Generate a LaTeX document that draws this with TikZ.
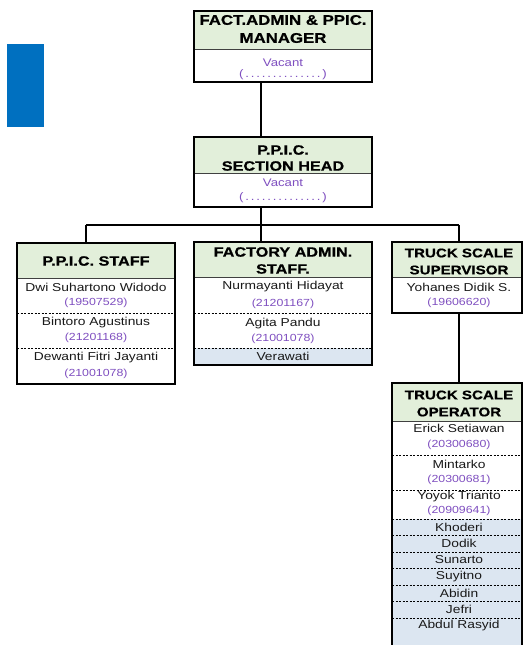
\documentclass[tikz,border=0pt]{standalone}
\usepackage{fontspec}
\setmainfont{Liberation Sans}[FakeStretch=1.2]
\newfontfamily\hdrfont{Liberation Sans Bold}[FakeStretch=1.2,FakeBold=0.7]
\definecolor{hdr}{HTML}{E2EFDA}
\definecolor{rowblue}{HTML}{DCE6F1}
\definecolor{idpurple}{HTML}{7F4FC0}
\definecolor{sidebar}{HTML}{0070C0}
\tikzset{
  frame/.style={draw=black, line width=2pt, rectangle, inner sep=0pt},
  conn/.style={draw=black, line width=2pt},
  hsep/.style={draw=black!75, line width=0.8pt},
  rowsep/.style={draw=black, line width=1pt, dash pattern=on 2pt off 1.5pt},
  hdrtxt/.style={font=\hdrfont\fontsize{13.5}{17}\selectfont, align=center, inner sep=0pt},
  nametxt/.style={font=\fontsize{11.5}{14}\selectfont, text=black!90, inner sep=0pt},
  idtxt/.style={font=\fontsize{10.3}{12}\selectfont, text=idpurple, inner sep=0pt},
  vactxt/.style={font=\fontsize{11}{13}\selectfont, text=idpurple, inner sep=0pt},
}
\newcommand{\vacdots}{(\,.\,.\,.\,.\,.\,.\,.\,.\,.\,.\,.\,.\,.\,.\,)}
\begin{document}
\begin{tikzpicture}[x=1pt,y=-1pt]
\useasboundingbox (0,0) rectangle (525,645);
\clip (0,0) rectangle (525,645);
\fill[white] (0,0) rectangle (525,645);
% side bar
\fill[sidebar] (7,44) rectangle (44,127);

% ---------- top box ----------
\fill[hdr] (194,11) rectangle (372,49);
\draw[hsep] (194,49) -- (372,49);
\node[frame, minimum width=178pt, minimum height=71pt] (top) at (283,46.5) {};
\node[hdrtxt, font=\hdrfont\fontsize{14}{18}\selectfont] (topH) at (283,29) {FACT.ADMIN \& PPIC.\\MANAGER};
\node[vactxt] (topV) at (283,63) {Vacant};
\node[vactxt] (topD) at (283,75) {\vacdots};

% ---------- section head ----------
\fill[hdr] (194,137) rectangle (372,173);
\draw[hsep] (194,173) -- (372,173);
\node[frame, minimum width=178pt, minimum height=70pt] (sec) at (283,172) {};
\node[hdrtxt, font=\hdrfont\fontsize{13.5}{16}\selectfont] (secH) at (283,158) {P.P.I.C.\\SECTION HEAD};
\node[vactxt] (secV) at (283,183) {Vacant};
\node[vactxt] (secD) at (283,198) {\vacdots};

% ---------- left box ----------
\fill[hdr] (17,243) rectangle (175,278);
\draw[hsep] (17,278) -- (175,278);
\draw[rowsep] (17,313) -- (175,313);
\draw[rowsep] (17,348) -- (175,348);
\node[frame, minimum width=158pt, minimum height=141pt] (lbox) at (96,313.5) {};
\node[hdrtxt] (lH) at (96,261) {P.P.I.C. STAFF};
\node[nametxt] (l1n) at (96,287) {Dwi Suhartono Widodo};
\node[idtxt] (l1i) at (96,303) {(19507529)};
\node[nametxt] (l2n) at (96,323) {Bintoro Agustinus};
\node[idtxt] (l2i) at (96,338) {(21201168)};
\node[nametxt] (l3n) at (96,358) {Dewanti Fitri Jayanti};
\node[idtxt] (l3i) at (96,374) {(21001078)};

% ---------- middle box ----------
\fill[hdr] (194,242) rectangle (372,277);
\fill[rowblue] (194,348) rectangle (372,365);
\draw[hsep] (194,277) -- (372,277);
\draw[rowsep] (194,313) -- (372,313);
\draw[rowsep] (194,348) -- (372,348);
\node[frame, minimum width=178pt, minimum height=123pt] (mbox) at (283,303.5) {};
\node[hdrtxt] (mH) at (283,260.5) {FACTORY ADMIN.\\STAFF.};
\node[nametxt] (m1n) at (283,287) {Nurmayanti Hidayat};
\node[idtxt] (m1i) at (283,304) {(21201167)};
\node[nametxt] (m2n) at (283,324) {Agita Pandu};
\node[idtxt] (m2i) at (283,339) {(21001078)};
\node[nametxt] (m3n) at (283,356.5) {Verawati};

% ---------- right box ----------
\fill[hdr] (392,242) rectangle (522,277);
\draw[hsep] (392,277) -- (522,277);
\node[frame, minimum width=130pt, minimum height=71pt] (rbox) at (457,277.5) {};
\node[hdrtxt, font=\hdrfont\fontsize{12.6}{17}\selectfont] (rH) at (459,261.5) {TRUCK SCALE\\SUPERVISOR};
\node[nametxt] (r1n) at (459,287) {Yohanes Didik S.};
\node[idtxt] (r1i) at (459,303) {(19606620)};

% ---------- operator box ----------
\fill[hdr] (392,383) rectangle (522,421);
\fill[rowblue] (392,519) rectangle (522,700);
\draw[hsep] (392,421) -- (522,421);
\foreach \yy in {455,490,519,535.5,552,568.5,585,601.5,618}
  \draw[rowsep] (392,\yy) -- (522,\yy);
\node[frame, minimum width=130pt, minimum height=317pt] (obox) at (457,541.5) {};
\node[hdrtxt, font=\hdrfont\fontsize{12.6}{17}\selectfont] (oH) at (459,403.5) {TRUCK SCALE\\OPERATOR};
\node[nametxt] (o1n) at (459,428) {Erick Setiawan};
\node[idtxt] (o1i) at (459,445) {(20300680)};
\node[nametxt] (o2n) at (459,464) {Mintarko};
\node[idtxt] (o2i) at (459,480) {(20300681)};
\node[nametxt] (o3n) at (459,497) {Yoyok Trianto};
\node[idtxt] (o3i) at (459,511) {(20909641)};
\node[nametxt] (o4n) at (459,527) {Khoderi};
\node[nametxt] (o5n) at (459,543.5) {Dodik};
\node[nametxt] (o6n) at (459,560) {Sunarto};
\node[nametxt] (o7n) at (459,576.5) {Suyitno};
\node[nametxt] (o8n) at (459,593) {Abidin};
\node[nametxt] (o9n) at (459,609.5) {Jefri};
\node[nametxt] (o10n) at (459,626) {Abdul Rasyid};

% ---------- connectors ----------
\coordinate (jx) at (261,0);
\coordinate (lx) at (86,0);
\coordinate (rx) at (459,0);
\coordinate (bus) at (0,225);
\draw[conn] (top.south -| jx) -- (sec.north -| jx);
\draw[conn] (sec.south -| jx) -- (mbox.north -| jx);
\draw[conn] (bus -| lx) -- (bus -| rx);
\draw[conn] (bus -| lx) -- (lbox.north -| lx);
\draw[conn] (bus -| rx) -- (rbox.north -| rx);
\draw[conn] (rbox.south -| rx) -- (obox.north -| rx);
\end{tikzpicture}
\end{document}
